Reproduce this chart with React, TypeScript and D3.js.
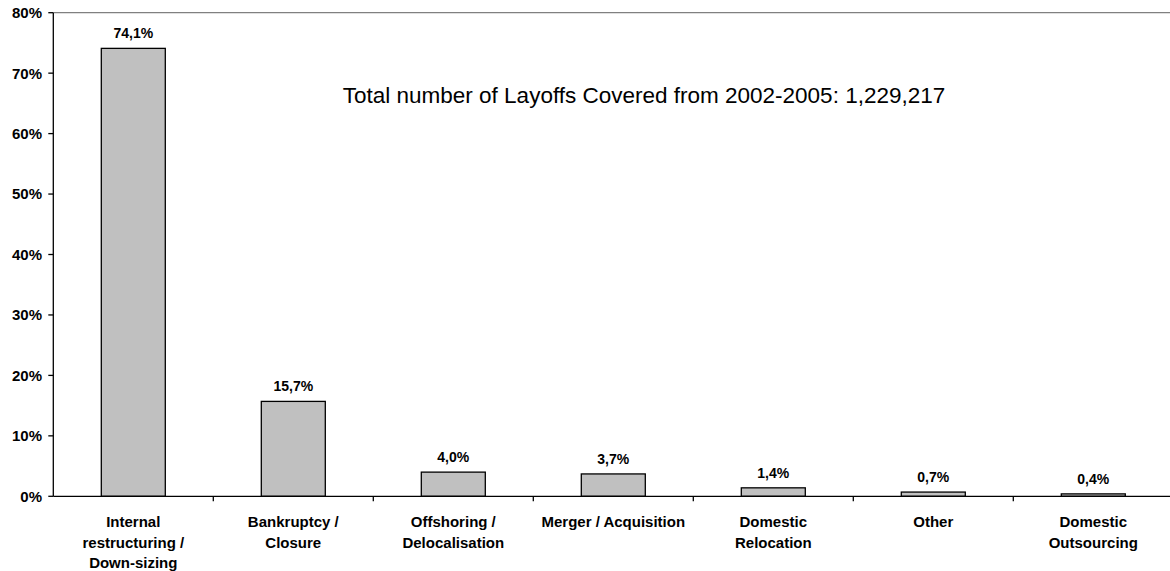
import React from "react";
import * as d3 from "d3";

const categories: string[][] = [
  ["Internal", "restructuring /", "Down-sizing"],
  ["Bankruptcy /", "Closure"],
  ["Offshoring /", "Delocalisation"],
  ["Merger / Acquisition"],
  ["Domestic", "Relocation"],
  ["Other"],
  ["Domestic", "Outsourcing"],
];
const values: number[] = [74.1, 15.7, 4.0, 3.7, 1.4, 0.7, 0.4];
const yTicks: number[] = [0, 10, 20, 30, 40, 50, 60, 70, 80];
const annotation = "Total number of Layoffs Covered from 2002-2005: 1,229,217";

const W = 1170;
const H = 571;
const FONT = "Arial, 'Liberation Sans', Helvetica, sans-serif";

export default function App() {
  const left = 53.3;
  const right = left + 7 * 160;
  const top = 12.7;
  const bottom = 496.3;

  const x = d3
    .scaleBand<number>()
    .domain(values.map((_, i) => i))
    .range([left, right])
    .padding(0);
  const y = d3.scaleLinear().domain([0, 80]).range([bottom, top]);
  const barW = x.bandwidth() * 0.4;
  const fmt = (v: number) => v.toFixed(1).replace(".", ",") + "%";

  return (
    <svg
      width={W}
      height={H}
      style={{ position: "absolute", left: 0, top: 0, display: "block" }}
      fontFamily={FONT}
    >
      <rect x={0} y={0} width={W} height={H} fill="#fff" />
      <line x1={left} x2={W} y1={top} y2={top} stroke="#808080" strokeWidth={1.2} />
      {values.map((v, i) => {
        const cx = (x(i) as number) + x.bandwidth() / 2;
        return (
          <g key={i}>
            <rect
              x={cx - barW / 2}
              y={y(v)}
              width={barW}
              height={bottom - y(v)}
              fill="#C0C0C0"
              stroke="#000"
              strokeWidth={1.3}
            />
            <text
              x={cx}
              y={y(v) - 10}
              textAnchor="middle"
              fontSize={14}
              fontWeight="bold"
              fill="#000"
            >
              {fmt(v)}
            </text>
          </g>
        );
      })}
      <line x1={left} x2={left} y1={top} y2={bottom} stroke="#000" strokeWidth={1.3} />
      {yTicks.map((t) => (
        <g key={t}>
          <line x1={left - 5} x2={left} y1={y(t)} y2={y(t)} stroke="#000" strokeWidth={1.3} />
          <text
            x={42}
            y={y(t)}
            dy="0.36em"
            textAnchor="end"
            fontSize={15}
            fontWeight="bold"
            fill="#000"
          >
            {t}%
          </text>
        </g>
      ))}
      <line x1={left} x2={right} y1={bottom} y2={bottom} stroke="#000" strokeWidth={1.3} />
      {values.map((_, i) =>
        i === 0 ? null : (
          <line
            key={i}
            x1={x(i) as number}
            x2={x(i) as number}
            y1={bottom}
            y2={bottom + 5}
            stroke="#000"
            strokeWidth={1.3}
          />
        )
      )}
      {categories.map((lines, i) => {
        const cx = (x(i) as number) + x.bandwidth() / 2;
        return (
          <text key={i} textAnchor="middle" fontSize={15} fontWeight="bold" fill="#000">
            {lines.map((l, j) => (
              <tspan key={j} x={cx} y={527 + j * 20.5}>
                {l}
              </tspan>
            ))}
          </text>
        );
      })}
      <text x={644} y={103} textAnchor="middle" fontSize={22.5} fill="#000">
        {annotation}
      </text>
    </svg>
  );
}
